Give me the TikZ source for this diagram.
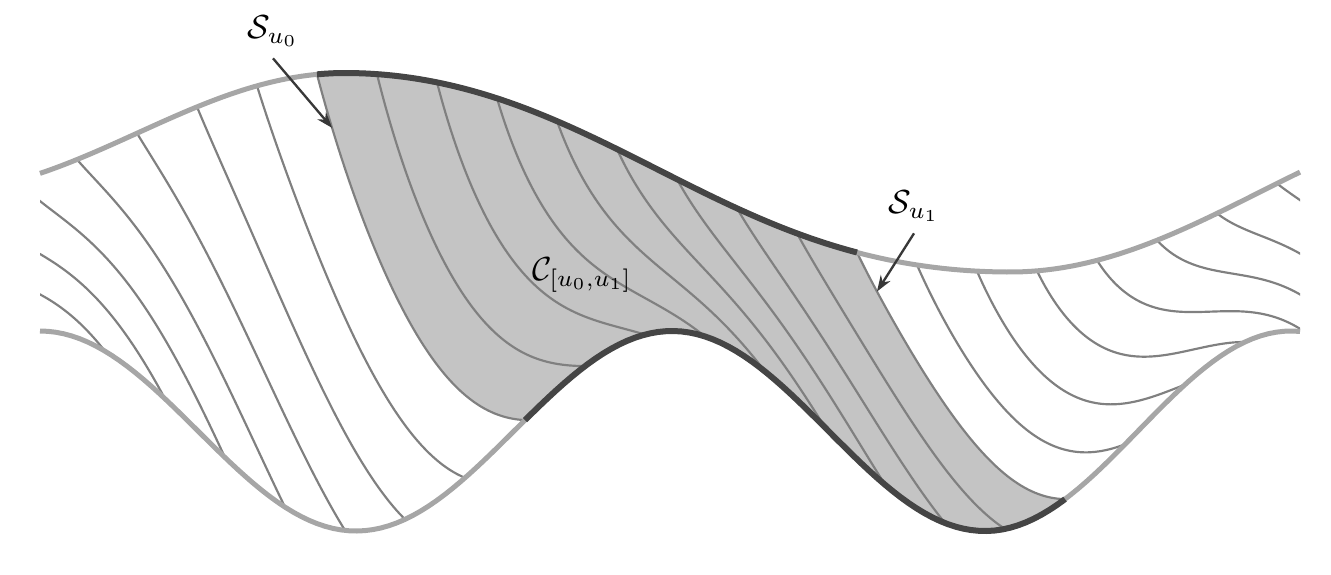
\documentclass[tikz,border=0pt]{standalone}
\usetikzlibrary{arrows.meta}
\tikzset{
  declare function={
    tt(\p)=(\p<345) ? (133-60*cos((345-\p)/415*180)) : ((\p<1010) ? (172.5-99.5*cos((\p-345)/665*180)+7*(sin((\p-345)/665*180))^2*(1-cos((\p-345)/665*180))) : (192+80*cos((\p-1010)/500*180)));
    bb(\p)=(\p<356) ? (431-100*cos((\p-40)/316*180)) : ((\p<672) ? (431+100*cos((\p-356)/316*180)) : ((\p<985) ? (431-100*cos((\p-672)/313*180)) : (431+100*cos((\p-985)/306*180))));
    xc(\k,\s)=77+60*(\k)+208*(0.55*\s+0.45*\s*\s);
    yc(\k,\s)=tt(xc(\k,\s))+\s*(bb(xc(\k,\s))-tt(xc(\k,\s)));
  },
  rim/.style={line width=1.5pt, black!35},
  rimdark/.style={line width=1.8pt, black!73},
  charline/.style={line width=0.65pt, black!50},
  strip/.style={fill=black!23},
  pointer/.style={-{Stealth[length=4.8pt,width=3.4pt]}, line width=0.7pt, black!78}
}
\begin{document}
\begin{tikzpicture}[x=0.3pt,y=-0.3pt]
  \useasboundingbox (0,0) rectangle (1331,574);
  % the strip between the two sections
  \fill[strip] plot[domain=317:857,samples=60] (\x,{tt(\x)})
    -- plot[variable=\s,domain=0:1,samples=30] ({xc(13,\s)},{yc(13,\s)})
    -- plot[domain=1065:525,samples=60] (\x,{bb(\x)})
    -- plot[variable=\s,domain=1:0,samples=30] ({xc(4,\s)},{yc(4,\s)}) -- cycle;
  % characteristics
  \begin{scope}
    \clip (40,0) rectangle (1300,574);
    \foreach \i in {-3,...,20}
      \draw[charline] plot[variable=\s,domain=0:1,samples=40,smooth] ({xc(\i,\s)},{yc(\i,\s)});
  \end{scope}
  % upper and lower boundary
  \draw[rim] plot[domain=40:1300,samples=160] (\x,{tt(\x)});
  \draw[rim] plot[domain=40:1300,samples=160] (\x,{bb(\x)});
  \draw[rimdark] plot[domain=317:857,samples=70] (\x,{tt(\x)});
  \draw[rimdark] plot[domain=525:1065,samples=70] (\x,{bb(\x)});
  % labels
  \node (su0) at (273,31) {$\mathcal{S}_{u_0}$};
  \node (su1) at (914,206) {$\mathcal{S}_{u_1}$};
  \node (cc) at (582,275) {$\mathcal{C}_{[u_0,u_1]}$};
  \coordinate (hit0) at ({xc(4,0.12)},{yc(4,0.12)});
  \coordinate (hit1) at ({xc(13,0.155)},{yc(13,0.155)});
  \draw[pointer] (su0.south) -- (hit0);
  \draw[pointer] (su1.south) -- (hit1);
\end{tikzpicture}
\end{document}
